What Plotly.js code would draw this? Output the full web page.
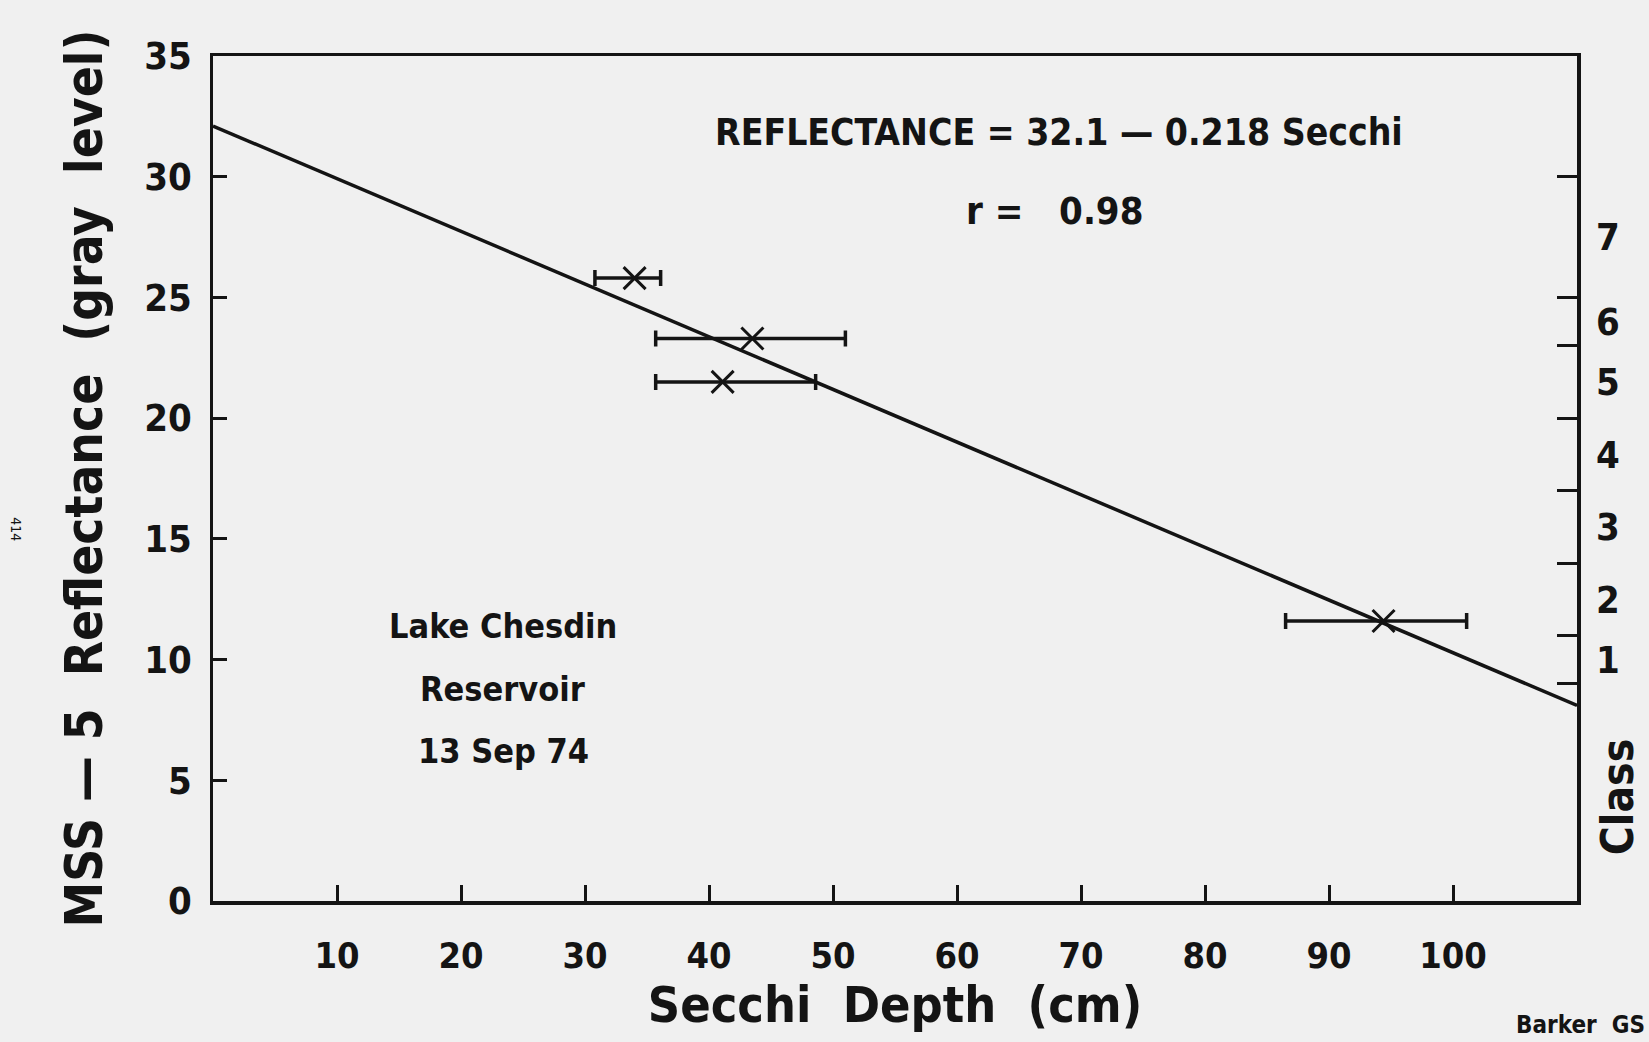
<!DOCTYPE html>
<html>
<head>
<meta charset="utf-8">
<script src="https://cdn.plot.ly/plotly-3.0.1.min.js"></script>
<style>
  html, body { margin: 0; padding: 0; background: #f0f0f0; }
  #chart { width: 1649px; height: 1042px; }
</style>
</head>
<body>
<div id="chart"></div>
<script>
// ---- data ----
const secchi      = [34.0, 43.5, 41.1, 94.4];      // Secchi depth (cm), marker centres
const reflectance = [25.8, 23.3, 21.5, 11.6];      // MSS-5 reflectance (gray level)
const secchiPlus  = [2.1, 7.5, 7.5, 6.7];          // error bar to the right
const secchiMinus = [3.2, 7.8, 5.4, 7.9];          // error bar to the left

const fitX = [0, 110];                              // regression line end points
const fitY = [32.1, 8.1];

const xTicks = [10, 20, 30, 40, 50, 60, 70, 80, 90, 100];
const yTicks = [0, 5, 10, 15, 20, 25, 30, 35];

const classBounds = [30, 25, 23, 20, 17, 14, 11, 9];          // right-axis class boundaries
const classMid    = [27.5, 24, 21.5, 18.5, 15.5, 12.5, 10];   // label positions
const classLabels = ['7', '6', '5', '4', '3', '2', '1'];

const equationText = 'REFLECTANCE = 32.1 \u2014 0.218 Secchi';
const rText = 'r =   0.98';
const siteText = ['Lake Chesdin', 'Reservoir', '13 Sep 74'];

// ---- styling ----
const FONT = '"Liberation Sans Narrow", "DejaVu Sans Condensed", "Liberation Sans", sans-serif';
const INK = '#141414';
const b = s => '<b>' + s + '</b>';

const traces = [
  {
    x: fitX, y: fitY, mode: 'lines', type: 'scatter',
    line: { color: INK, width: 3.5 }, hoverinfo: 'skip', showlegend: false
  },
  {
    x: secchi, y: reflectance, mode: 'markers', type: 'scatter',
    marker: { symbol: 'x-thin', size: 22, line: { color: INK, width: 3 }, color: INK },
    error_x: {
      type: 'data', symmetric: false,
      array: secchiPlus, arrayminus: secchiMinus,
      color: INK, thickness: 3.5, width: 8
    },
    showlegend: false
  },
  // anchor traces so the right-hand class axes are drawn
  { x: [fitX[0]], y: [classBounds[0]], yaxis: 'y2', mode: 'markers',
    marker: { opacity: 0 }, hoverinfo: 'skip', showlegend: false },
  { x: [fitX[0]], y: [classMid[0]], yaxis: 'y3', mode: 'markers',
    marker: { opacity: 0 }, hoverinfo: 'skip', showlegend: false }
];

const annotations = [
  { text: b(equationText), xref: 'paper', yref: 'paper',
    x: 0.6205, y: 0.909, xanchor: 'center', yanchor: 'middle', showarrow: false,
    font: { family: FONT, size: 37, color: INK } },
  { text: b(rText), xref: 'paper', yref: 'paper',
    x: 0.617, y: 0.816, xanchor: 'center', yanchor: 'middle', showarrow: false,
    font: { family: FONT, size: 38, color: INK } },
  { text: b(siteText[0]), xref: 'x', yref: 'y',
    x: 23.4, y: 11.4, xanchor: 'center', yanchor: 'middle', showarrow: false,
    font: { family: FONT, size: 34, color: INK } },
  { text: b(siteText[1]), xref: 'x', yref: 'y',
    x: 23.4, y: 8.8, xanchor: 'center', yanchor: 'middle', showarrow: false,
    font: { family: FONT, size: 34, color: INK } },
  { text: b(siteText[2]), xref: 'x', yref: 'y',
    x: 23.4, y: 6.2, xanchor: 'center', yanchor: 'middle', showarrow: false,
    font: { family: FONT, size: 34, color: INK } },
  { text: b('Class'), xref: 'paper', yref: 'y',
    x: 1.0, xshift: 40, y: 4.3, xanchor: 'center', yanchor: 'middle', showarrow: false,
    textangle: -90, font: { family: FONT, size: 44, color: INK } },
  { text: '414', xref: 'paper', yref: 'paper',
    x: 0, xshift: -197, y: 0.44, xanchor: 'center', yanchor: 'middle', showarrow: false,
    textangle: 90, font: { family: FONT, size: 14, color: INK } },
  { text: b('Barker  GS'), xref: 'paper', yref: 'paper',
    x: 1.0, xshift: 70, y: 0, yshift: -124, xanchor: 'right', yanchor: 'middle', showarrow: false,
    font: { family: FONT, size: 24, color: INK } }
];

const layout = {
  width: 1649, height: 1042,
  paper_bgcolor: '#f0f0f0', plot_bgcolor: '#f0f0f0',
  margin: { l: 213, r: 72, t: 56, b: 141 },
  showlegend: false,
  xaxis: {
    range: [0, 110], tickvals: xTicks, ticktext: xTicks.map(v => b(String(v))),
    ticks: 'inside', ticklen: 16, tickwidth: 3, tickcolor: INK,
    showline: true, linewidth: 3.5, linecolor: INK, mirror: true,
    showgrid: false, zeroline: false, ticklabelstandoff: 20,
    tickfont: { family: FONT, size: 36, color: INK },
    title: { text: b('Secchi  Depth  (cm)'), standoff: 12,
             font: { family: FONT, size: 50, color: INK } }
  },
  yaxis: {
    range: [0, 35], tickvals: yTicks, ticktext: yTicks.map(v => b(String(v))),
    ticks: 'inside', ticklen: 14, tickwidth: 3, tickcolor: INK,
    showline: true, linewidth: 3.5, linecolor: INK, mirror: true,
    showgrid: false, zeroline: false, ticklabelstandoff: 10,
    tickfont: { family: FONT, size: 38, color: INK },
    title: { text: b('MSS \u2014 5  Reflectance  (gray  level)'), standoff: 26,
             font: { family: FONT, size: 51, color: INK } }
  },
  yaxis2: {
    overlaying: 'y', side: 'right', range: [0, 35],
    tickvals: classBounds, showticklabels: false,
    ticks: 'inside', ticklen: 20, tickwidth: 3, tickcolor: INK,
    showline: true, linewidth: 3.5, linecolor: INK,
    showgrid: false, zeroline: false
  },
  yaxis3: {
    overlaying: 'y', side: 'right', range: [0, 35],
    tickvals: classMid, ticktext: classLabels.map(b),
    ticks: '', showline: false, showgrid: false, zeroline: false,
    ticklabelstandoff: 18,
    tickfont: { family: FONT, size: 38, color: INK }
  },
  annotations: annotations
};

Plotly.newPlot('chart', traces, layout, { displayModeBar: false, staticPlot: true });
</script>
</body>
</html>
